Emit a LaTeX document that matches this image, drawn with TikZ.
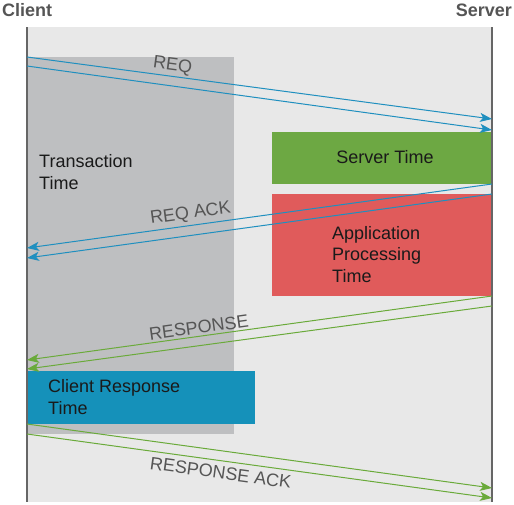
\documentclass[tikz,border=0pt]{standalone}
\usepackage{fontspec}
\setmainfont{Liberation Sans}
\usetikzlibrary{arrows.meta}
\definecolor{bglight}{HTML}{E8E8E8}
\definecolor{trgray}{HTML}{BEBFC1}
\definecolor{srvgreen}{HTML}{6DA843}
\definecolor{appred}{HTML}{E05B5B}
\definecolor{crblue}{HTML}{1591BA}
\definecolor{msgblue}{HTML}{1F8FBF}
\definecolor{msggreen}{HTML}{6AAA3A}
\definecolor{lblgray}{HTML}{555555}
\definecolor{txtdark}{HTML}{1A1A1A}
\definecolor{axisgray}{HTML}{666666}
\tikzset{
  bigfont/.style={font=\fontsize{18}{21.5}\selectfont},
  header/.style={font=\fontsize{18}{21.5}\selectfont\bfseries, text=lblgray, inner sep=0pt},
  boxtext/.style={bigfont, text=txtdark, align=left, inner sep=0pt},
  msglabel/.style={bigfont, text=lblgray, sloped, inner sep=2pt},
  panel/.style={draw=none, inner sep=0pt, outer sep=0pt},
  bluemsg/.style={draw=msgblue, line width=1pt, -{Stealth[length=12pt,width=9pt,inset=3pt]}},
  greenmsg/.style={draw=msggreen, line width=1pt, -{Stealth[length=12pt,width=9pt,inset=3pt]}},
  lifeline/.style={draw=axisgray, line width=1.2pt}
}
\begin{document}
\begin{tikzpicture}[x=1pt,y=-1pt]
\useasboundingbox (0,0) rectangle (514,504);
% background panel
\fill[bglight] (27,27) rectangle (492,502);
% transaction time panel
\node[panel, fill=trgray, minimum width=207pt, minimum height=377pt, anchor=north west] (trans) at (27,57) {};
% server time
\node[panel, fill=srvgreen, minimum width=220pt, minimum height=52pt, anchor=north west] (srv) at (272,132) {};
% application processing
\node[panel, fill=appred, minimum width=220pt, minimum height=102pt, anchor=north west] (app) at (272,194) {};
% client response
\node[panel, fill=crblue, minimum width=228pt, minimum height=53pt, anchor=north west] (cr) at (27,371) {};

% lifelines
\coordinate (ctop) at (27,27);
\coordinate (cbot) at (27,502);
\coordinate (stop) at (492,27);
\coordinate (sbot) at (492,502);
\draw[lifeline] (ctop) -- (cbot);
\draw[lifeline] (stop) -- (sbot);

% headers
\node[header, anchor=west] (client) at (2,10) {Client};
\node[header, anchor=east] (server) at (512,10) {Server};

% box texts
\node[boxtext, anchor=west] (transtxt) at (39,172) {Transaction\\Time};
\node[bigfont, text=txtdark, inner sep=0pt] (srvtxt) at (385,157) {Server Time};
\node[boxtext, anchor=west] (apptxt) at (332,254.5) {Application\\Processing\\Time};
\node[boxtext, anchor=west] (crtxt) at (48,397) {Client Response\\Time};

% endpoints
\coordinate (rq1c) at (27,57);   \coordinate (rq1s) at (492,119);
\coordinate (rq2c) at (27,66);   \coordinate (rq2s) at (492,130);
\coordinate (ra1s) at (492,184); \coordinate (ra1c) at (27,248);
\coordinate (ra2s) at (492,194); \coordinate (ra2c) at (27,258);
\coordinate (rs1s) at (492,296); \coordinate (rs1c) at (27,360);
\coordinate (rs2s) at (492,306); \coordinate (rs2c) at (27,369);
\coordinate (rk1c) at (27,424);  \coordinate (rk1s) at (492,488);
\coordinate (rk2c) at (27,434);  \coordinate (rk2s) at (492,498);

% REQ
\draw[bluemsg] (rq1c) -- node[msglabel, pos=0.31, above=0pt] (reqlbl) {REQ} (rq1s);
\draw[bluemsg] (rq2c) -- (rq2s);
% REQ ACK
\draw[bluemsg] (ra1s) -- node[msglabel, pos=0.645, above=1pt] (reqacklbl) {REQ ACK} (ra1c);
\draw[bluemsg] (ra2s) -- (ra2c);
% RESPONSE
\draw[greenmsg] (rs1s) -- node[msglabel, pos=0.628, above=0pt] (resplbl) {RESPONSE} (rs1c);
\draw[greenmsg] (rs2s) -- (rs2c);
% RESPONSE ACK
\draw[greenmsg] (rk1c) -- (rk1s);
\draw[greenmsg] (rk2c) -- node[msglabel, pos=0.42, below=3pt] (respacklbl) {RESPONSE ACK} (rk2s);
\end{tikzpicture}
\end{document}
